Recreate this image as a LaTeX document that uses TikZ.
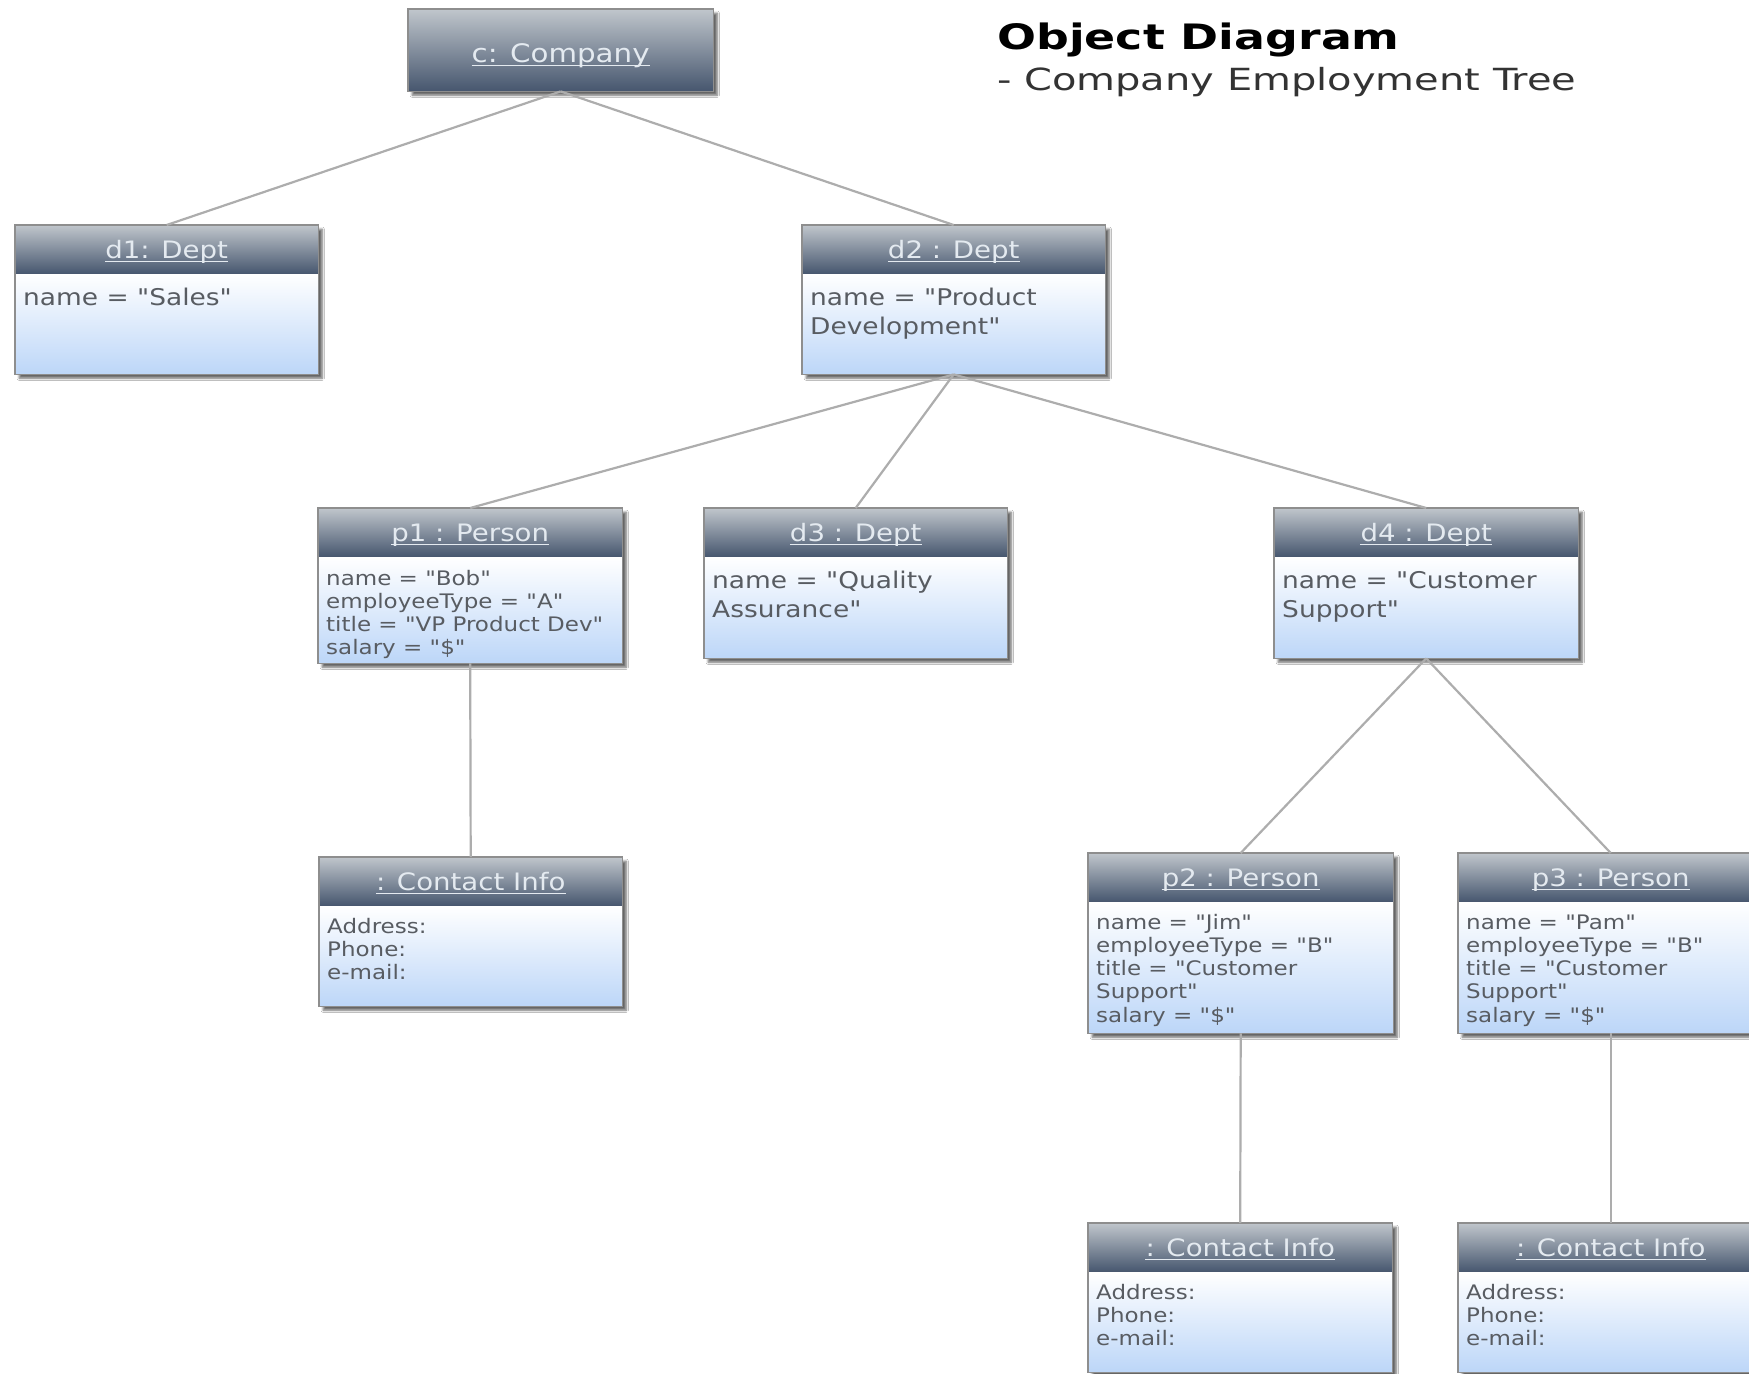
\documentclass[tikz,border=0pt]{standalone}
\usepackage{fontspec}
\setmainfont[FakeStretch=1.15, Ligatures=TeXOff]{DejaVu Sans}
\newfontfamily\titlefont[FakeStretch=1.31, Ligatures=TeXOff]{DejaVu Sans}
\usetikzlibrary{shadows.blur}

\definecolor{hdtop}{HTML}{C0C6CC}
\definecolor{hdbot}{HTML}{46566E}
\definecolor{bdbot}{HTML}{BCD6F8}
\definecolor{framegray}{HTML}{8E8E8E}
\definecolor{linkgray}{HTML}{ADADAD}
\definecolor{hdtxt}{HTML}{E4EAF0}
\definecolor{bdtxt}{HTML}{585C62}

\newcommand\deptfont{\fontsize{23}{29}\selectfont}
\newcommand\persfont{\fontsize{20}{23.3}\selectfont}
\newcommand\infofont{\fontsize{20}{23.3}\selectfont}

\tikzset{
  objframe/.style={anchor=north west, inner sep=0pt, fill=white,
    blur shadow={shadow xshift=4pt, shadow yshift=-4pt, shadow blur steps=6, shadow opacity=60}},
  hdrfill/.style={top color=hdtop, bottom color=hdbot},
  bodyfill/.style={top color=white, bottom color=bdbot},
  outline/.style={draw=framegray, line width=1.3pt},
  hdrtext/.style={anchor=base, inner sep=0pt, text=hdtxt, font=\fontsize{24}{28}\selectfont,
    append after command={([yshift=-3.5pt]\tikzlastnode.base west) edge[draw=hdtxt, line width=1.2pt] ([yshift=-3.5pt]\tikzlastnode.base east)}},
  bodytext/.style={anchor=base west, inner sep=0pt, text=bdtxt, align=left},
  assoc/.style={draw=linkgray, line width=2.2pt},
}

% object box: name, left, top, width, height, header, body font, first baseline offset, attribute lines
\newcommand\umlobj[9]{%
  \node[objframe, minimum width=#4pt, minimum height=#5pt] (#1) at (#2,#3) {};
  \shade[hdrfill] (#1.north west) rectangle ([yshift=-49pt]#1.north east);
  \shade[bodyfill] ([yshift=-49pt]#1.north west) rectangle (#1.south east);
  \draw[outline] (#1.north west) rectangle (#1.south east);
  \node[hdrtext] (#1-h) at ([yshift=-33pt]#1.north) {#6};
  \node[bodytext, font=#7] (#1-b) at ([xshift=8pt,yshift=-#8pt]#1.north west)
    {\begin{tabular}[t]{@{}l@{}}#9\end{tabular}};
}

\begin{document}
\begin{tikzpicture}[x=1pt,y=-1pt]
\useasboundingbox (0,0) rectangle (1749,1374);
\fill[white] (0,0) rectangle (1749,1374);
\clip (0,0) rectangle (1749,1374);

% title
\node[anchor=base west, inner sep=0pt, font=\titlefont\bfseries\fontsize{35}{40}\selectfont] (title) at (997,49) {Object Diagram};
\node[anchor=base west, inner sep=0pt, text=black!80, font=\titlefont\fontsize{30.5}{36}\selectfont] (subtitle) at (997,90) {- Company Employment Tree};

% company object (header only)
\node[objframe, minimum width=305pt, minimum height=82pt] (c) at (408,9) {};
\shade[hdrfill] (c.north west) rectangle (c.south east);
\draw[outline] (c.north west) rectangle (c.south east);
\node[hdrtext, font=\fontsize{25.5}{30}\selectfont] (c-h) at ([yshift=-53pt]c.north) {c: Company};

% departments
\umlobj{d1}{15}{225}{303}{149}{d1: Dept}{\deptfont}{80}{name = "Sales"}
\umlobj{d2}{802}{225}{303}{149}{d2 : Dept}{\deptfont}{80}{name = "Product\\Development"}
\umlobj{d3}{704}{508}{303}{150}{d3 : Dept}{\deptfont}{80}{name = "Quality\\Assurance"}
\umlobj{d4}{1274}{508}{304}{150}{d4 : Dept}{\deptfont}{80}{name = "Customer\\Support"}

% persons
\umlobj{p1}{318}{508}{304}{155}{p1 : Person}{\persfont}{77}{name = "Bob"\\employeeType = "A"\\title = "VP Product Dev"\\salary = "\$"}
\umlobj{p2}{1088}{853}{305}{180}{p2 : Person}{\persfont}{76}{name = "Jim"\\employeeType = "B"\\title = "Customer\\Support"\\salary = "\$"}
\umlobj{p3}{1458}{853}{305}{180}{p3 : Person}{\persfont}{76}{name = "Pam"\\employeeType = "B"\\title = "Customer\\Support"\\salary = "\$"}

% contact info
\umlobj{ci1}{319}{857}{303}{149}{: Contact Info}{\infofont}{76}{Address:\\Phone:\\e-mail:}
\umlobj{ci2}{1088}{1223}{304}{149}{: Contact Info}{\infofont}{76}{Address:\\Phone:\\e-mail:}
\umlobj{ci3}{1458}{1223}{305}{149}{: Contact Info}{\infofont}{76}{Address:\\Phone:\\e-mail:}

% links
\draw[assoc] (c.south) -- (d1.north);
\draw[assoc] (c.south) -- (d2.north);
\draw[assoc] (d2.south) -- (p1.north);
\draw[assoc] (d2.south) -- (d3.north);
\draw[assoc] (d2.south) -- (d4.north);
\draw[assoc] (p1.south) -- (ci1.north);
\draw[assoc] (d4.south) -- (p2.north);
\draw[assoc] (d4.south) -- (p3.north);
\draw[assoc] (p2.south) -- (ci2.north);
\draw[assoc] (p3.south) -- (ci3.north);
\end{tikzpicture}
\end{document}
